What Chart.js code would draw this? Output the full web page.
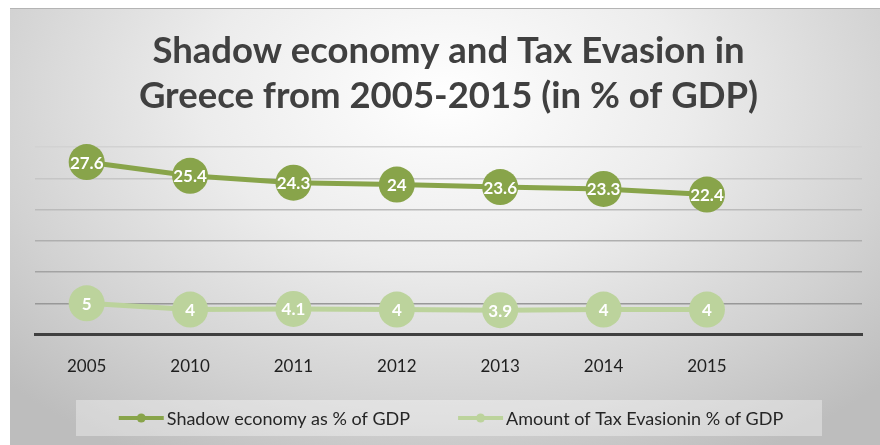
<!DOCTYPE html>
<html>
<head>
<meta charset="utf-8">
<script src="https://cdn.jsdelivr.net/npm/chart.js@4"></script>
<style>
  html, body { margin: 0; padding: 0; background: #fff; }
  #wrap {
    position: absolute; left: 10px; top: 8px;
    width: 870px; height: 437px; box-sizing: border-box;
    border-top: 1px solid #b4b4b4;
    background: radial-gradient(ellipse 70% 95% at 50% 20%, #ffffff 0%, #ececec 40%, #d2d2d2 75%, #bdbdbd 100%);
  }
</style>
</head>
<body>
<div id="wrap"><canvas id="chart" width="870" height="436"></canvas></div>
<script>
// data
const years = ['2005', '2010', '2011', '2012', '2013', '2014', '2015', ''];
const shadowEconomy = [27.6, 25.4, 24.3, 24, 23.6, 23.3, 22.4];
const taxEvasion = [5, 4, 4.1, 4, 3.9, 4, 4];
const seriesNames = ['Shadow economy as % of GDP', 'Amount of Tax Evasionin % of GDP'];
const titleLines = ['Shadow economy and Tax Evasion in', 'Greece from 2005-2015 (in % of GDP)'];

const darkGreen = '#88a44a';
const lightGreen = '#bcd39c';

Chart.defaults.font.family = 'Lato';

// white numbers inside the points
const valueLabels = {
  id: 'valueLabels',
  afterDatasetsDraw(chart) {
    const ctx = chart.ctx;
    ctx.save();
    ctx.font = 'bold 17px Lato';
    ctx.fillStyle = '#ffffff';
    ctx.textAlign = 'center';
    ctx.textBaseline = 'middle';
    chart.data.datasets.forEach((ds, i) => {
      chart.getDatasetMeta(i).data.forEach((pt, j) => {
        ctx.fillText(String(ds.data[j]), pt.x, pt.y + 1);
      });
    });
    ctx.restore();
  }
};

// legend: light panel, line-with-dot symbols, series names
const bottomLegend = {
  id: 'bottomLegend',
  afterDraw(chart) {
    const ctx = chart.ctx;
    const cy = 409, lineLen = 45, gap = 3, spacing = 48;
    ctx.save();
    ctx.fillStyle = 'rgba(255,255,255,0.35)';
    ctx.fillRect(66, cy - 18, 746, 36);

    ctx.font = '18px Lato';
    ctx.textBaseline = 'middle';
    const items = chart.data.datasets.map(ds => ({
      text: ds.label, color: ds.borderColor, w: ctx.measureText(ds.label).width
    }));
    let total = 0;
    items.forEach((it, i) => { total += lineLen + gap + it.w + (i ? spacing : 0); });
    let x = 441 - total / 2;
    items.forEach(it => {
      ctx.strokeStyle = it.color;
      ctx.fillStyle = it.color;
      ctx.lineWidth = 4;
      ctx.beginPath(); ctx.moveTo(x, cy); ctx.lineTo(x + lineLen, cy); ctx.stroke();
      ctx.beginPath(); ctx.arc(x + lineLen / 2, cy, 4.5, 0, Math.PI * 2); ctx.fill();
      ctx.fillStyle = '#262626';
      ctx.fillText(it.text, x + lineLen + gap, cy + 1);
      x += lineLen + gap + it.w + spacing;
    });
    ctx.restore();
  }
};

const gridColor = v => {
  const c = Math.round(140 + (v / 30) * 70);
  return `rgb(${c},${c},${c})`;
};

new Chart(document.getElementById('chart'), {
  type: 'line',
  data: {
    labels: years,
    datasets: [{
      label: seriesNames[0],
      data: shadowEconomy,
      borderColor: darkGreen,
      backgroundColor: darkGreen,
      borderWidth: 5,
      pointRadius: 18,
      pointHoverRadius: 18,
      pointBorderWidth: 0,
      tension: 0
    }, {
      label: seriesNames[1],
      data: taxEvasion,
      borderColor: lightGreen,
      backgroundColor: lightGreen,
      borderWidth: 5,
      pointRadius: 18,
      pointHoverRadius: 18,
      pointBorderWidth: 0,
      tension: 0
    }]
  },
  options: {
    responsive: false,
    animation: false,
    clip: false,
    layout: { autoPadding: false, padding: { left: 25, right: 18, bottom: 46 } },
    scales: {
      x: {
        offset: true,
        grid: { display: false, drawTicks: false },
        border: { display: true, color: '#404040', width: 3 },
        ticks: { color: '#1f1f1f', font: { size: 17 }, padding: 22 }
      },
      y: {
        min: 0, max: 30,
        ticks: { display: false, stepSize: 5 },
        grid: { color: ctx => gridColor(ctx.tick.value), lineWidth: 1.5, drawTicks: false },
        border: { display: false }
      }
    },
    plugins: {
      title: {
        display: true,
        text: titleLines,
        color: '#404040',
        font: { size: 36.5, weight: 'bold', lineHeight: 1.247 },
        padding: { top: 19, bottom: 28 }
      },
      legend: { display: false },
      tooltip: { enabled: false }
    }
  },
  plugins: [valueLabels, bottomLegend]
});
</script>
</body>
</html>
